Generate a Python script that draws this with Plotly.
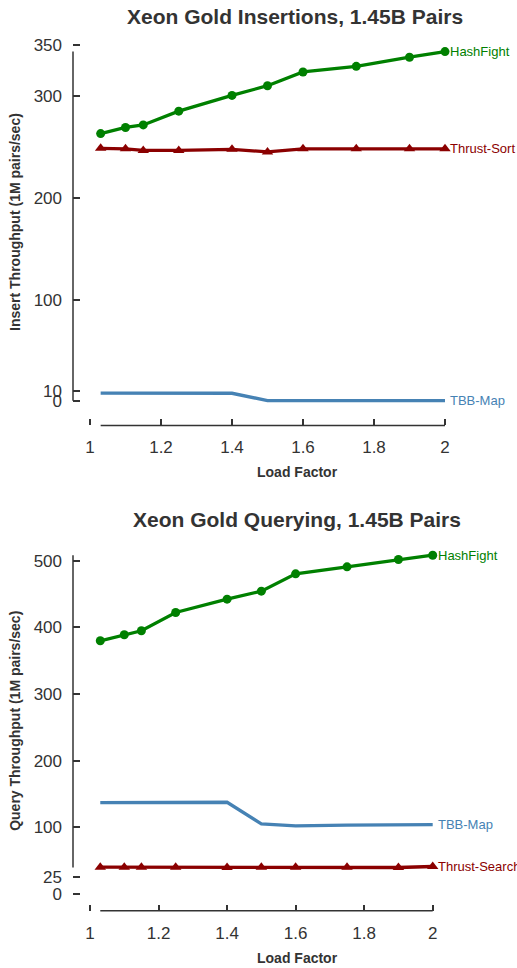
import plotly.graph_objects as go

# ---- data ----
load_factor = [1.03, 1.1, 1.15, 1.25, 1.4, 1.5, 1.6, 1.75, 1.9, 2.0]

ins_hashfight = [263, 269, 271.5, 285, 300.5, 310, 323.5, 329, 338, 343.5]
ins_thrust_sort = [248.5, 248, 246.5, 246.5, 247.5, 245, 248, 248, 248, 248]
ins_tbb_map = [8.2, 8.3, 8.4, 8.4, 8.0, 0.8, 0.7, 0.7, 0.7, 0.7]

qry_hashfight = [380, 389, 395, 422.5, 442.5, 454.5, 480.5, 491, 502, 508.5]
qry_thrust_search = [40, 40, 40, 40, 39.5, 40, 40, 40, 39.5, 41]
qry_tbb_map = [137, 137, 137, 138, 137.5, 105, 102, 103, 104, 104]

ins_yticks = [0, 10, 100, 200, 300, 350]
qry_yticks = [0, 25, 100, 200, 300, 400, 500]
xticks = [1, 1.2, 1.4, 1.6, 1.8, 2]

GREEN = "#008000"
RED = "#8b0000"
BLUE = "#4682b4"
AX = "#333333"
FONT = "Liberation Sans, Arial, Helvetica, sans-serif"

W, H = 517, 968


def Y(px):
    # vertical pixel placement (top-down) corrected for the page rendering
    return (px - 7) / 0.993


fig = go.Figure()


def add_series(x, y, xa, ya, color, marker):
    kw = dict(x=x, y=y, xaxis=xa, yaxis=ya, showlegend=False, cliponaxis=False,
              line=dict(color=color, width=3.3))
    if marker:
        kw["mode"] = "lines+markers"
        kw["marker"] = dict(symbol=marker, size=9 if marker == "circle" else 10, color=color)
    else:
        kw["mode"] = "lines"
    fig.add_trace(go.Scatter(**kw))


add_series(load_factor, ins_hashfight, "x", "y", GREEN, "circle")
add_series(load_factor, ins_thrust_sort, "x", "y", RED, "triangle-up")
add_series(load_factor, ins_tbb_map, "x", "y", BLUE, None)

add_series(load_factor, qry_hashfight, "x2", "y2", GREEN, "circle")
add_series(load_factor, qry_thrust_search, "x2", "y2", RED, "triangle-up")
add_series(load_factor, qry_tbb_map, "x2", "y2", BLUE, None)

tickfont = dict(family=FONT, size=17, color=AX)


def xaxis(domain, rng, anchor):
    return dict(domain=domain, range=rng, anchor=anchor, tickvals=xticks,
                ticktext=[f"{v:g}" for v in xticks], ticks="inside", ticklen=6,
                tickwidth=1.5, tickcolor=AX, showline=False, showgrid=False,
                zeroline=False, tickfont=tickfont, ticklabelstandoff=10)


def yaxis(domain, rng, anchor, tv):
    return dict(domain=domain, range=rng, anchor=anchor, tickvals=tv,
                ticktext=[str(v) for v in tv], ticks="inside", ticklen=7,
                tickwidth=1.5, tickcolor=AX, showline=False, showgrid=False,
                zeroline=False, tickfont=tickfont, ticklabelstandoff=10)


fig.update_layout(
    width=W, height=H, autosize=False,
    margin=dict(l=0, r=0, t=0, b=0),
    plot_bgcolor="white", paper_bgcolor="white",
    xaxis=xaxis([73 / W, 450 / W], [1 - 17 / 355, 2 + 5 / 355], "y"),
    yaxis=yaxis([1 - Y(425.5) / H, 1 - Y(43) / H], [-23.56, 351.95], "x", ins_yticks),
    xaxis2=xaxis([73 / W, 437 / W], [1 - 17 / 342.7, 2 + 4.3 / 342.7], "y2"),
    yaxis2=yaxis([1 - Y(911) / H, 1 - Y(553) / H], [-25.5, 512], "x2", qry_yticks),
)

# range-frame axis lines computed from data extents
shapes = []
for xr, yr, ys in [("x", "y", ins_hashfight + ins_thrust_sort + ins_tbb_map),
                   ("x2", "y2", qry_hashfight + qry_thrust_search + qry_tbb_map)]:
    shapes.append(dict(type="line", xref=f"{xr} domain", yref=yr, x0=0, x1=0,
                       y0=min(ys), y1=max(ys), line=dict(color=AX, width=1.5)))
    shapes.append(dict(type="line", xref=xr, yref=f"{yr} domain", x0=min(load_factor),
                       x1=max(load_factor), y0=0, y1=0, line=dict(color=AX, width=1.5)))
fig.update_layout(shapes=shapes)

ann = []


def label(text, xr, yr, y, color, xshift=3):
    ann.append(dict(text=text, x=load_factor[-1], y=y, xref=xr, yref=yr, xanchor="left",
                    yanchor="middle", xshift=xshift, showarrow=False,
                    font=dict(family=FONT, size=13, color=color)))


label("HashFight", "x", "y", ins_hashfight[-1], GREEN)
label("Thrust-Sort", "x", "y", ins_thrust_sort[-1], RED)
label("TBB-Map", "x", "y", ins_tbb_map[-1], BLUE)
label("HashFight", "x2", "y2", qry_hashfight[-1], GREEN)
label("Thrust-Search", "x2", "y2", qry_thrust_search[-1], RED)
label("TBB-Map", "x2", "y2", qry_tbb_map[-1], BLUE)


def text(t, x, y, size, angle=0):
    ann.append(dict(text=t, x=x / W, y=1 - Y(y) / H, xref="paper", yref="paper",
                    xanchor="center", yanchor="middle", showarrow=False, textangle=angle,
                    font=dict(family=FONT, size=size, color=AX, weight="bold")))


text("Xeon Gold Insertions, 1.45B Pairs", 295, 17, 21)
text("Xeon Gold Querying, 1.45B Pairs", 297, 520, 21)
text("Load Factor", 297, 472.5, 14)
text("Load Factor", 297, 958, 14)
text("Insert Throughput (1M pairs/sec)", 15, 222, 14, -90)
text("Query Throughput (1M pairs/sec)", 15, 721, 14, -90)

fig.update_layout(annotations=ann)

fig.write_html(
    "out.html",
    config={"displayModeBar": False},
    post_script="document.body.style.margin='0';document.body.style.overflow='hidden';",
)
